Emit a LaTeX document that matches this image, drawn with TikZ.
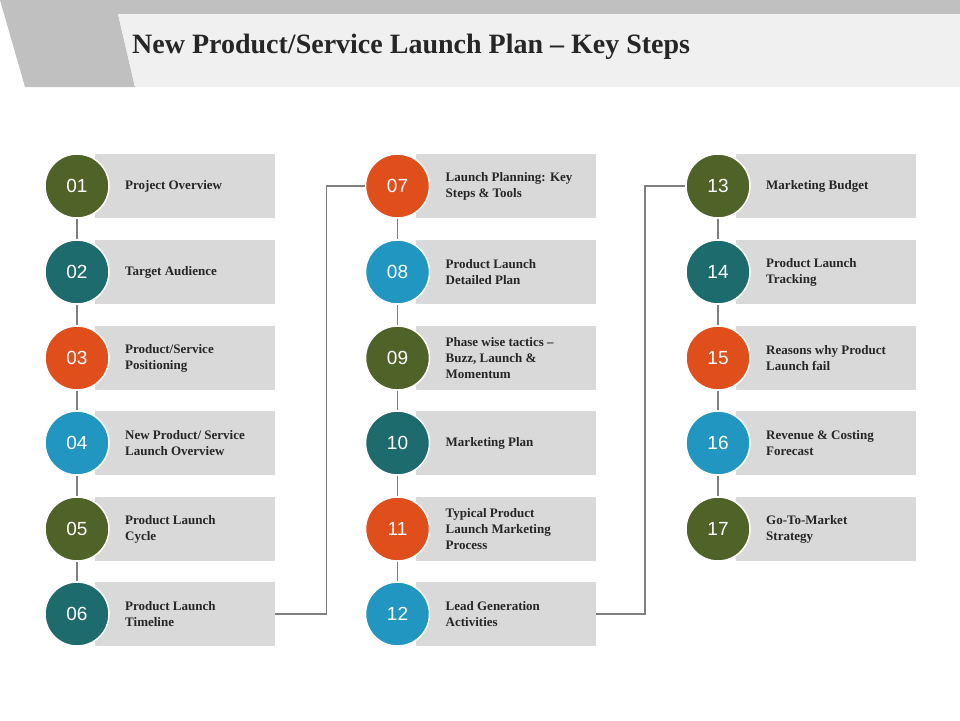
\documentclass[tikz,border=0pt]{standalone}
\usepackage{fontspec}
\setmainfont{Liberation Serif}
\newfontfamily\numfont{Liberation Sans}
\definecolor{cA}{HTML}{4F6228}
\definecolor{cB}{HTML}{1E6B6E}
\definecolor{cC}{HTML}{E04E1B}
\definecolor{cD}{HTML}{2196C0}
\definecolor{boxg}{HTML}{D9D9D9}
\definecolor{hdr}{HTML}{C0C0C0}
\definecolor{panel}{HTML}{F0F0F0}
\definecolor{ink}{HTML}{262626}
\definecolor{lin}{HTML}{7F7F7F}
\tikzset{
 numc/.style={circle,minimum size=64pt,inner sep=0pt,draw=white,line width=1.5pt,text=white,font=\numfont\fontsize{19}{19}\selectfont},
 lbox/.style={fill=boxg,minimum width=180pt,minimum height=64pt,inner sep=0pt,anchor=west},
 ltxt/.style={anchor=west,align=left,text=ink,font=\bfseries\fontsize{13}{16}\selectfont,inner sep=0pt},
 conn/.style={draw=lin,line width=1.2pt}
}
\begin{document}
\begin{tikzpicture}[x=1pt,y=-1pt]
\useasboundingbox (0,0) rectangle (960,720);
\fill[hdr] (0,0) -- (960,0) -- (960,14) -- (118,14) -- (135,87) -- (25,87) -- cycle;
\fill[panel] (118,14) -- (960,14) -- (960,87) -- (135,87) -- cycle;
\node[anchor=west,text=ink,font=\bfseries\fontsize{28}{30}\selectfont,inner sep=0pt] (title) at (132,47) {New Product/Service Launch Plan -- Key Steps};
\def\ys{{186,272,358,443,529,614}}
\foreach \i/\c/\t [count=\k from 0] in {
 01/cA/{Project Overview},
 02/cB/{Target Audience},
 03/cC/{Product/Service\\Positioning},
 04/cD/{New Product/ Service\\Launch Overview},
 05/cA/{Product Launch\\Cycle},
 06/cB/{Product Launch\\Timeline},
 07/cC/{Launch Planning: Key\\Steps \& Tools},
 08/cD/{Product Launch\\Detailed Plan},
 09/cA/{Phase wise tactics --\\Buzz, Launch \&\\Momentum},
 10/cB/{Marketing Plan},
 11/cC/{Typical Product\\Launch Marketing\\Process},
 12/cD/{Lead Generation\\Activities},
 13/cA/{Marketing Budget},
 14/cB/{Product Launch\\Tracking},
 15/cC/{Reasons why Product\\Launch fail},
 16/cD/{Revenue \& Costing\\Forecast},
 17/cA/{Go-To-Market\\Strategy}}{
 \pgfmathtruncatemacro\col{int(\k/6)}
 \pgfmathtruncatemacro\row{mod(\k,6)}
 \pgfmathsetmacro\cx{77+\col*320.5}
 \pgfmathsetmacro\cy{\ys[\row]}
 \node[lbox] (b\i) at (\cx+18,\cy) {};
 \node[ltxt] (t\i) at (\cx+48,\cy) {\t};
 \node[numc,fill=\c] (n\i) at (\cx,\cy) {\i};
}
\foreach \a/\b in {01/02,02/03,03/04,04/05,05/06,07/08,08/09,09/10,10/11,11/12,13/14,14/15,15/16,16/17}{
 \draw[conn] (n\a) -- (n\b);
}
\draw[conn] (b06.east) -- ++(51,0) |- (n07.west);
\draw[conn] (b12.east) -- ++(49,0) |- (n13.west);
\end{tikzpicture}
\end{document}
